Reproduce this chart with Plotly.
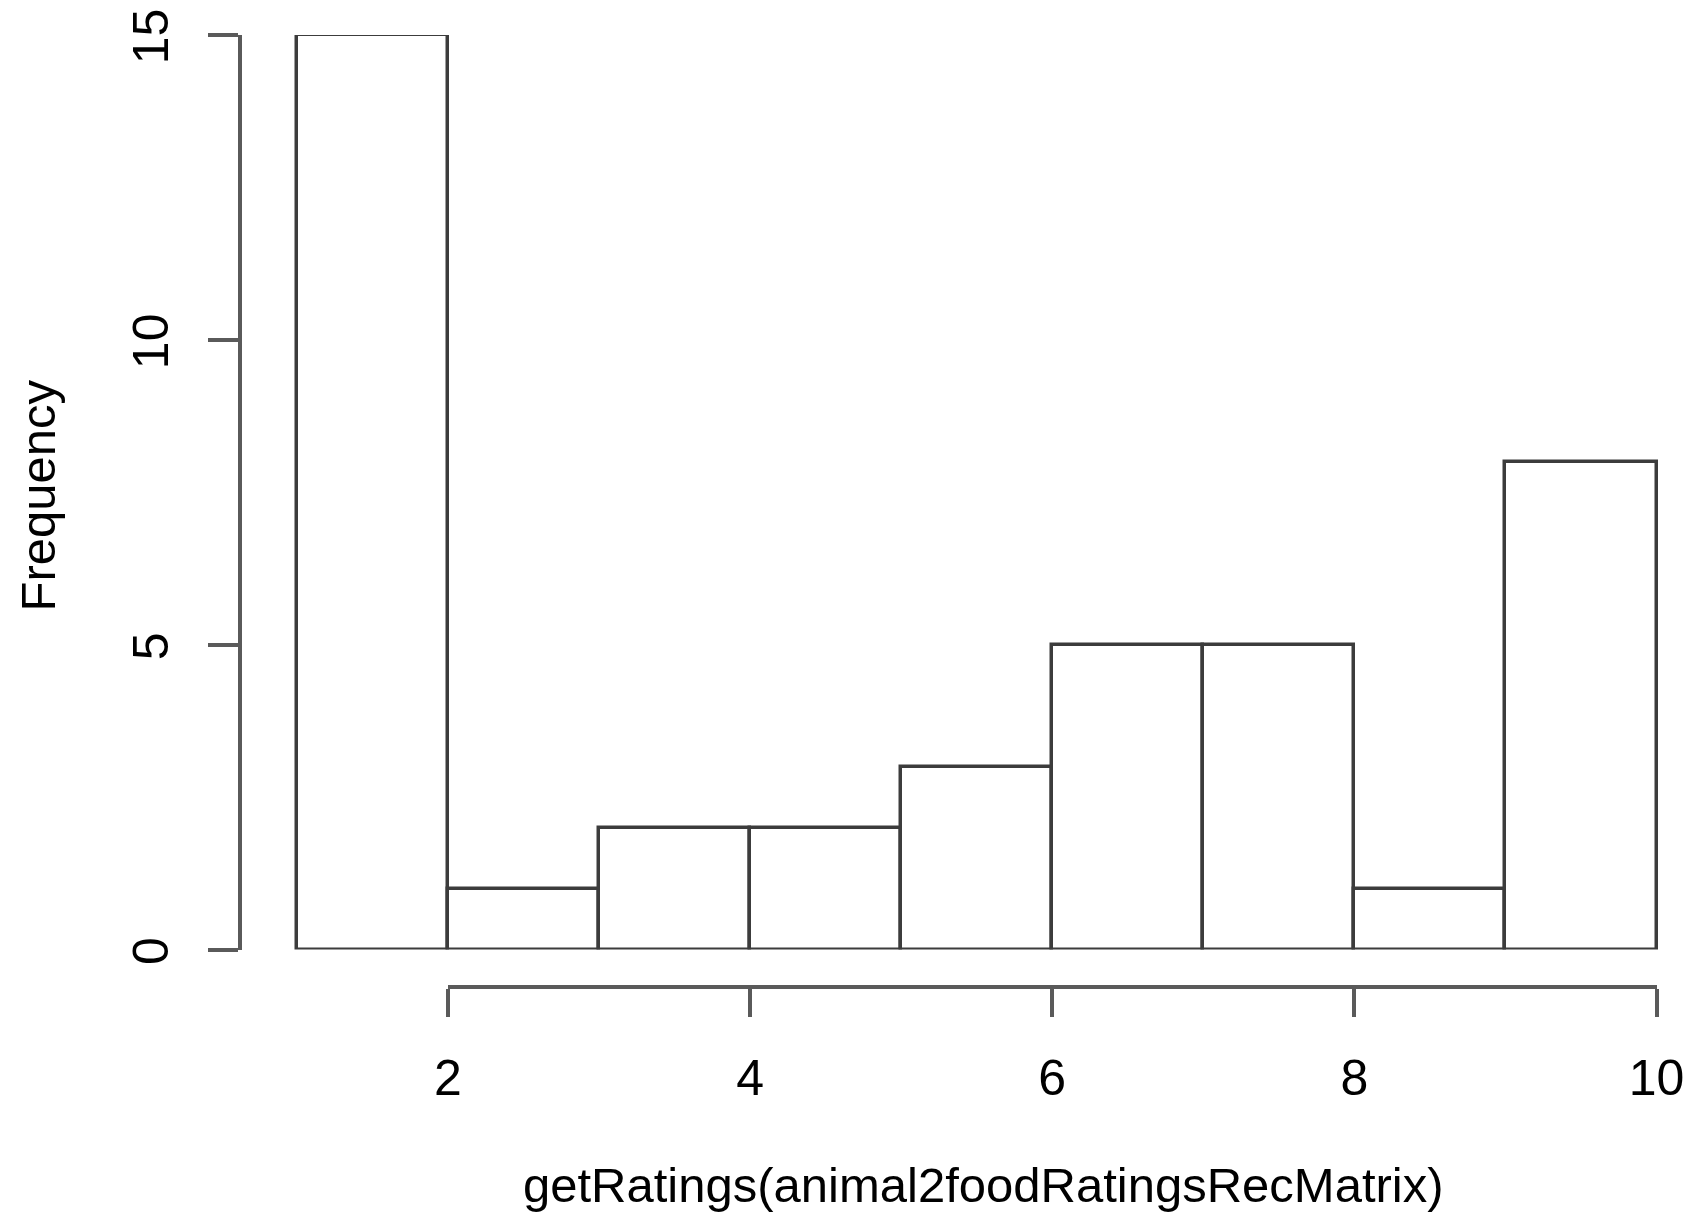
import plotly.graph_objects as go

# ---- data ----
bin_edges = [1, 2, 3, 4, 5, 6, 7, 8, 9, 10]
counts = [15, 1, 2, 2, 3, 5, 5, 1, 8]
x_ticks = [2, 4, 6, 8, 10]
y_ticks = [0, 5, 10, 15]
x_title = "getRatings(animal2foodRatingsRecMatrix)"
y_title = "Frequency"

centers = [(bin_edges[i] + bin_edges[i + 1]) / 2 for i in range(len(counts))]
widths = [bin_edges[i + 1] - bin_edges[i] for i in range(len(counts))]

FONT = "Liberation Sans, Arial, sans-serif"
BARC = "#3c3c3c"
AXC = "#5a5a5a"

# page body has an 8px margin; the figure is sized to fit the window
OFF = 8
W, H = 1698 - 2 * OFF, 1223 - 2 * OFF

# layout targets in figure pixels
ax_left = 241.7 - OFF        # y axis line
x_one = 296.6 - OFF          # pixel of value 1
px_per_x = 151.1
y_zero = 949.3 - OFF
y_top = 35 - OFF             # pixel of value 15
x_line = 986.7 - OFF         # detached x axis line

ML, MR = ax_left, 0
MT = y_top
MB = H - x_line
pw = W - ML - MR
ph = H - MT - MB

x_lo = 1 - (x_one - ax_left) / px_per_x
x_hi = x_lo + pw / px_per_x
y0_dom = (x_line - y_zero) / ph


def xpaper(v):
    return ((v - x_lo) * px_per_x) / pw


fig = go.Figure()
fig.add_trace(go.Bar(
    x=centers, y=counts, width=widths,
    marker=dict(color="white", line=dict(color=BARC, width=3.5)),
    xaxis="x", yaxis="y", showlegend=False, hoverinfo="skip",
))
# helper trace carrying the detached R-style x axis
fig.add_trace(go.Scatter(
    x=x_ticks, y=[0] * len(x_ticks), mode="markers",
    marker=dict(opacity=0), xaxis="x2", yaxis="y",
    showlegend=False, hoverinfo="skip",
))

fig.update_layout(
    width=W, height=H, autosize=False,
    margin=dict(l=ML, r=MR, t=MT, b=MB, pad=0, autoexpand=False),
    paper_bgcolor="white", plot_bgcolor="rgba(0,0,0,0)",
    font=dict(family=FONT, color="black", size=50),
    bargap=0,
    xaxis=dict(domain=[0, 1], range=[x_lo, x_hi], visible=False,
               anchor="y", fixedrange=True, automargin=False),
    xaxis2=dict(domain=[xpaper(x_ticks[0]), xpaper(x_ticks[-1])],
                range=[x_ticks[0], x_ticks[-1]], anchor="free", position=0,
                showline=True, linecolor=AXC, linewidth=3.5,
                ticks="outside", ticklen=28, tickwidth=3.5, tickcolor=AXC,
                tickvals=x_ticks, ticktext=[str(v) for v in x_ticks],
                showgrid=False, zeroline=False, fixedrange=True,
                automargin=False,
                tickfont=dict(family=FONT, size=50, color="black"),
                ticklabelstandoff=18, ticklabeloverflow="allow"),
    yaxis=dict(domain=[y0_dom, 1], range=[0, 15], anchor="x",
               showline=True, linecolor=AXC, linewidth=3.5,
               ticks="outside", ticklen=30, tickwidth=3.5, tickcolor=AXC,
               tickvals=y_ticks, ticktext=[str(v) for v in y_ticks],
               tickangle=-90, showgrid=False, zeroline=False, fixedrange=True,
               automargin=False,
               tickfont=dict(family=FONT, size=50, color="black"),
               ticklabelstandoff=20, ticklabelshift=9,
               ticklabeloverflow="allow"),
    annotations=[
        dict(text=x_title, xref="paper", yref="paper",
             x=(983 - OFF - ML) / pw, y=(x_line - (1185 - OFF)) / ph,
             xanchor="center", yanchor="middle", showarrow=False,
             font=dict(family=FONT, size=49, color="black")),
        dict(text=y_title, xref="paper", yref="paper",
             x=(38 - OFF - ML) / pw, y=(x_line - (495 - OFF)) / ph,
             xanchor="center", yanchor="middle", textangle=-90,
             showarrow=False, font=dict(family=FONT, size=49, color="black")),
    ],
)

fig.write_html("out.html")
